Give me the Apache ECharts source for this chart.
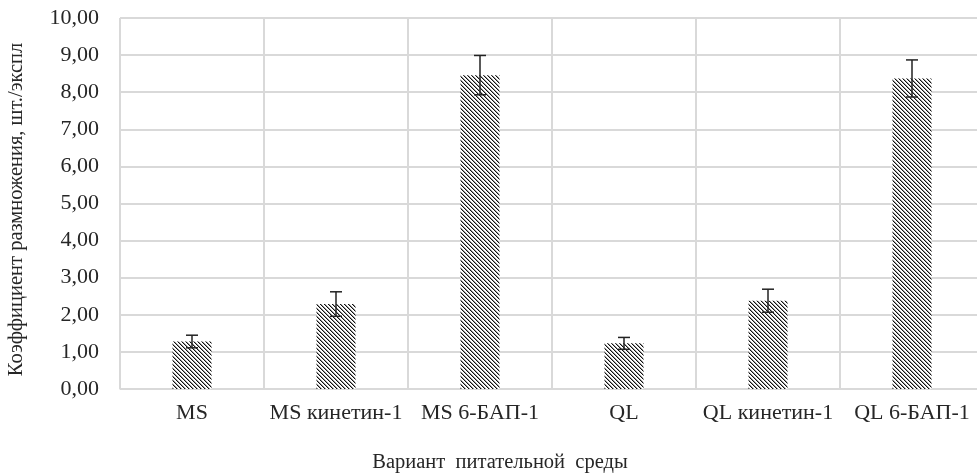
<!DOCTYPE html>
<html>
<head>
<meta charset="utf-8">
<script src="https://cdn.jsdelivr.net/npm/echarts@6/dist/echarts.min.js"></script>
<style>html,body{margin:0;padding:0;background:#fff;}#c{width:977px;height:473px;}</style>
</head>
<body>
<div id="c"></div>
<script>
const categories = ['MS', 'MS кинетин-1', 'MS 6-БАП-1', 'QL', 'QL кинетин-1', 'QL 6-БАП-1'];
const values = [1.28, 2.29, 8.46, 1.23, 2.38, 8.37];
const errors = [0.17, 0.33, 0.53, 0.16, 0.31, 0.5];
const yTicks = [0, 1, 2, 3, 4, 5, 6, 7, 8, 9, 10];
const yName = 'Коэффициент размножения, шт./экспл';
const xName = 'Вариант  питательной  среды';

const FONT = '"Liberation Serif", "Times New Roman", serif';
const TXT = '#262626';

// hatch pattern
const tile = document.createElement('canvas');
tile.width = 4; tile.height = 4;
const tc = tile.getContext('2d');
tc.fillStyle = '#ffffff'; tc.fillRect(0, 0, 4, 4);
for (let i = 0; i < 4; i++) {
  tc.fillStyle = '#111111'; tc.fillRect(i, i, 1, 1);
  tc.fillStyle = '#9a9a9a'; tc.fillRect((i + 1) % 4, i, 1, 1);
}

const errData = values.map((v, i) => [i, v - errors[i], v + errors[i]]);

const chart = echarts.init(document.getElementById('c'));
chart.setOption({
  animation: false,
  backgroundColor: '#fff',
  grid: { left: 120, right: -7, top: 18, bottom: 84, outerBoundsMode: 'none', containLabel: false },
  title: {
    text: xName, left: 495, top: 447, textAlign: 'center',
    textStyle: { fontFamily: FONT, fontSize: 20.5, fontWeight: 'normal', color: TXT }
  },
  xAxis: {
    type: 'category', data: categories,
    axisLine: { show: true, lineStyle: { color: '#d9d9d9', width: 1 } },
    axisTick: { show: false },
    splitLine: { show: true, lineStyle: { color: '#d9d9d9', width: 2 } },
    axisLabel: { fontFamily: FONT, fontSize: 22, color: TXT, margin: 13, interval: 0 }
  },
  yAxis: {
    type: 'value', min: yTicks[0], max: yTicks[yTicks.length - 1], interval: 1,
    name: yName, nameLocation: 'middle', nameGap: 93,
    nameTextStyle: { fontFamily: FONT, fontSize: 20.5, color: TXT, padding: [0, 12, 0, 0] },
    axisLine: { show: false }, axisTick: { show: false },
    splitLine: { lineStyle: { color: '#d9d9d9', width: 2 } },
    axisLabel: {
      fontFamily: FONT, fontSize: 22, color: TXT, margin: 21,
      formatter: v => v.toFixed(2).replace('.', ',')
    }
  },
  series: [
    {
      type: 'bar', data: values, barWidth: 39,
      itemStyle: { color: { image: tile, repeat: 'repeat' } }
    },
    {
      type: 'custom', data: errData, z: 10,
      renderItem: function (params, api) {
        const x = api.value(0);
        const lo = api.coord([x, api.value(1)]);
        const hi = api.coord([x, api.value(2)]);
        const w = 6;
        const st = { stroke: '#222', lineWidth: 1.5 };
        return {
          type: 'group', children: [
            { type: 'line', shape: { x1: lo[0], y1: lo[1], x2: hi[0], y2: hi[1] }, style: st },
            { type: 'line', shape: { x1: lo[0] - w, y1: lo[1], x2: lo[0] + w, y2: lo[1] }, style: st },
            { type: 'line', shape: { x1: hi[0] - w, y1: hi[1], x2: hi[0] + w, y2: hi[1] }, style: st }
          ]
        };
      }
    }
  ]
});
</script>
</body>
</html>
